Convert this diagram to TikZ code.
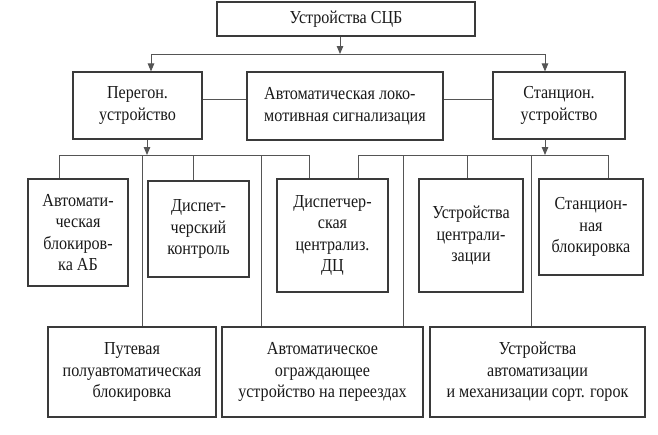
\documentclass[tikz,border=0pt]{standalone}
\usepackage{fontspec}
\setmainfont[FakeStretch=0.88]{Liberation Serif}
\usetikzlibrary{arrows.meta}
\definecolor{boxc}{HTML}{3A3A3A}
\definecolor{linec}{HTML}{555555}
\tikzset{
  blk/.style={draw=boxc, line width=1.1pt, inner sep=0pt, align=center,
    font=\fontsize{18.3}{21.5}\selectfont, text=black!90},
  conn/.style={draw=linec, line width=1pt},
  arr/.style={conn, -{Triangle[width=6.5pt,length=8pt]}}
}
\begin{document}
\begin{tikzpicture}[x=1pt,y=-1pt]
\useasboundingbox (0,0) rectangle (658,434);
% level 0
\node[blk, minimum width=258pt, minimum height=34pt] (top) at (346,19) {Устройства СЦБ};
% level 1
\node[blk, minimum width=129pt, minimum height=67pt] (per) at (137.5,105.5) {Перегон.\\устройство};
\node[blk, minimum width=196pt, minimum height=68pt, align=left] (alsn) at (345,106) {Автоматическая локо-\\мотивная сигнализация};
\node[blk, minimum width=132pt, minimum height=67pt] (stan) at (559,105.5) {Станцион.\\устройство};
% level 2
\node[blk, minimum width=100pt, minimum height=107pt] (b1) at (78,232.5) {Автомати-\\ческая\\блокиров-\\ка АБ};
\node[blk, minimum width=101pt, minimum height=96pt] (b2) at (198.5,229) {Диспет-\\черский\\контроль};
\node[blk, minimum width=111pt, minimum height=113pt] (b3) at (332.5,235.5) {Диспетчер-\\ская\\централиз.\\ДЦ};
\node[blk, minimum width=104pt, minimum height=113pt] (b4) at (471,235.5) {Устройства\\централи-\\зации};
\node[blk, minimum width=104pt, minimum height=96pt] (b5) at (591,227) {Станцион-\\ная\\блокировка};
% level 3
\node[blk, minimum width=168pt, minimum height=90pt] (c1) at (132,372) {Путевая\\полуавтоматическая\\блокировка};
\node[blk, minimum width=201pt, minimum height=90pt] (c2) at (322.5,372) {Автоматическое\\ограждающее\\устройство на переездах};
\node[blk, minimum width=215pt, minimum height=90pt] (c3) at (537.5,372) {Устройства\\автоматизации\\и механизации сорт. горок};
% junction coordinates
\coordinate (j0) at (340,54);
\coordinate (jL) at (151,54);
\coordinate (jR) at (545,54);
\coordinate (h1) at (0,99);
\coordinate (pA) at (147,155);
\coordinate (sA) at (545,155);
\coordinate (L1) at (59,155);
\coordinate (L2) at (142,155);
\coordinate (L3) at (193,155);
\coordinate (L4) at (261,155);
\coordinate (L5) at (309,155);
\coordinate (R1) at (358,155);
\coordinate (R2) at (403,155);
\coordinate (R3) at (467,155);
\coordinate (R4) at (531,155);
\coordinate (R5) at (608,155);
% connectors level 0-1
\draw[arr] (top.south -| j0) -- (j0);
\draw[conn] (jL) -- (jR);
\draw[arr] (jL) -- (jL |- per.north);
\draw[arr] (jR) -- (jR |- stan.north);
\draw[conn] (per.east |- h1) -- (alsn.west |- h1);
\draw[conn] (alsn.east |- h1) -- (stan.west |- h1);
% level 1-2
\draw[arr] (pA |- per.south) -- (pA);
\draw[arr] (sA |- stan.south) -- (sA);
\draw[conn] (L1) -- (L5);
\draw[conn] (R1) -- (R5);
\draw[conn] (L1) -- (L1 |- b1.north);
\draw[conn] (L3) -- (L3 |- b2.north);
\draw[conn] (L5) -- (L5 |- b3.north);
\draw[conn] (R1) -- (R1 |- b3.north);
\draw[conn] (R3) -- (R3 |- b4.north);
\draw[conn] (R5) -- (R5 |- b5.north);
% level 1-3
\draw[conn] (L2) -- (L2 |- c1.north);
\draw[conn] (L4) -- (L4 |- c2.north);
\draw[conn] (R2) -- (R2 |- c2.north);
\draw[conn] (R4) -- (R4 |- c3.north);
\end{tikzpicture}
\end{document}
